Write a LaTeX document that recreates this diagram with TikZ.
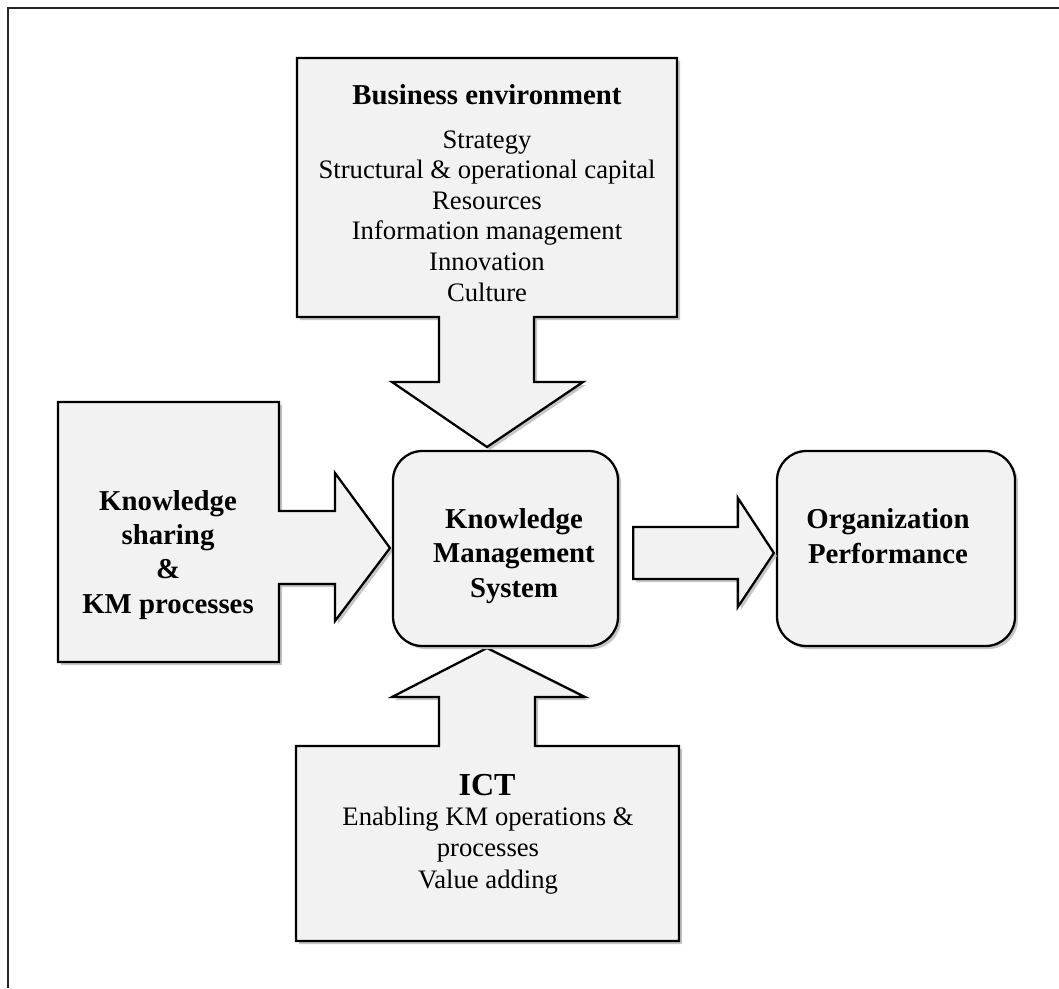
\documentclass[tikz,border=0pt]{standalone}
\usepackage{fontspec}
\setmainfont{Liberation Serif}
\usetikzlibrary{calc}
\definecolor{panel}{HTML}{F2F2F2}
\definecolor{shade}{HTML}{C6C6C6}
\begin{document}
\begin{tikzpicture}[x=0.75pt,y=-0.75pt,
  shadowed/.style={preaction={draw=none, fill=shade, transform canvas={xshift=2.25pt, yshift=-2.25pt}}},
  outline/.style={draw=black, line width=1.7pt, fill=panel, line join=miter, shadowed},
  roundbox/.style={outline, rectangle, rounded corners=22pt, minimum height=146.25pt, inner sep=0pt},
  plain/.style={font=\fontsize{20}{22.9}\selectfont, align=center, inner sep=0pt},
  heading/.style={font=\fontsize{21.6}{25.6}\selectfont\bfseries, align=center, inner sep=0pt}
]
\useasboundingbox (0,0) rectangle (1059,988);

% frame
\draw[line width=1.6pt, black!85] (8,988) -- (8,8) -- (1059,8);

% business environment callout (points down)
\draw[outline] (297,58) -- (677,58) -- (677,317) -- (534,317) -- (534,382)
  -- (583,382) -- (487,447) -- (392,382) -- (439,382) -- (439,317)
  -- (297,317) -- cycle;
\node[heading, anchor=base] (betitle) at (487,105) {Business environment};
% multi-line nodes: base anchor sits on the last line
\node[plain, anchor=base] (belist) at (487,301) {Strategy\\ Structural \& operational capital\\ Resources\\ Information management\\ Innovation\\ Culture};

% knowledge sharing callout (points right)
\draw[outline] (58,402) -- (279,402) -- (279,511) -- (335,511) -- (335,473)
  -- (390,548) -- (335,621) -- (335,584) -- (279,584) -- (279,662)
  -- (58,662) -- cycle;
\node[heading, anchor=base] (kstext) at (168,613) {Knowledge\\ sharing\\ \&\\ KM processes};

% ICT callout (points up)
\draw[outline] (296,746) -- (439,746) -- (439,697) -- (392,697) -- (487,648)
  -- (585,697) -- (535,697) -- (535,746) -- (679,746) -- (679,941)
  -- (296,941) -- cycle;
\node[font=\fontsize{24}{28}\selectfont\bfseries, inner sep=0pt, anchor=base] (icttitle) at (487,795) {ICT};
\node[plain, font=\fontsize{20}{23.4}\selectfont, anchor=base] (ictlist) at (488,888) {Enabling KM operations \&\\ processes\\ Value adding};

% central system and outcome
\node[roundbox, minimum width=168.75pt] (kms) at (505.5,548.5) {};
\node[heading, anchor=base] (kmstext) at (514,597) {Knowledge\\ Management\\ System};

\node[roundbox, minimum width=178.5pt] (op) at (896,548.5) {};
\node[heading, anchor=base] (optext) at (888,563) {Organization\\ Performance};

% block arrow from system to performance
\coordinate (rs) at ($(kms.east)+(14,4.5)$);
\coordinate (rt) at ($(op.west)+(-2,4.5)$);
\draw[outline] ($(rs)+(0,-26)$) -- ($(rt)+(-36,-26)$) -- ($(rt)+(-36,-55)$)
  -- (rt) -- ($(rt)+(-36,54)$) -- ($(rt)+(-36,26)$) -- ($(rs)+(0,26)$) -- cycle;
\end{tikzpicture}
\end{document}
